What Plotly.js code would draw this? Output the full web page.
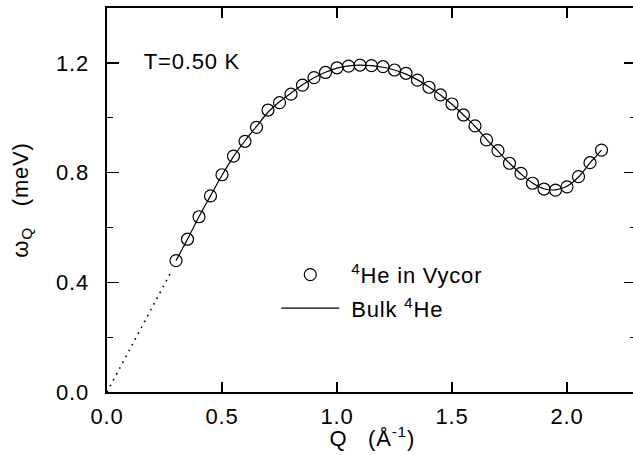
<!DOCTYPE html>
<html>
<head>
<meta charset="utf-8">
<script src="https://cdn.plot.ly/plotly-3.0.1.min.js"></script>
<style>
html,body{margin:0;padding:0;overflow:hidden;background:#fff;}
#chart{width:645px;height:455px;}
#chart text{letter-spacing:0.8px;}
</style>
</head>
<body>
<div id="chart"></div>
<script>
// Data
var vycorQ = [0.30,0.35,0.40,0.45,0.50,0.55,0.60,0.65,0.70,0.75,0.80,0.85,0.90,0.95,1.00,1.05,1.10,1.15,1.20,1.25,1.30,1.35,1.40,1.45,1.50,1.55,1.60,1.65,1.70,1.75,1.80,1.85,1.90,1.95,2.00,2.05,2.10,2.15];
var vycorW = [0.479,0.557,0.639,0.715,0.792,0.860,0.914,0.965,1.028,1.055,1.086,1.119,1.146,1.165,1.182,1.188,1.192,1.190,1.186,1.174,1.162,1.137,1.111,1.083,1.050,1.010,0.970,0.919,0.880,0.834,0.797,0.761,0.740,0.736,0.748,0.785,0.836,0.882];
var bulkQ = [0.30,0.35,0.40,0.45,0.50,0.55,0.60,0.65,0.70,0.75,0.80,0.85,0.90,0.95,1.00,1.05,1.10,1.15,1.20,1.25,1.30,1.35,1.40,1.45,1.50,1.55,1.60,1.65,1.70,1.75,1.80,1.85,1.90,1.95,2.00,2.05,2.10,2.15];
var bulkW = [0.479,0.557,0.639,0.715,0.790,0.858,0.916,0.968,1.020,1.058,1.090,1.120,1.146,1.166,1.181,1.189,1.192,1.190,1.184,1.174,1.159,1.138,1.112,1.083,1.049,1.010,0.969,0.921,0.878,0.834,0.795,0.762,0.741,0.737,0.750,0.784,0.835,0.882];
var phononQ = [0.0, 0.28];
var phononW = [0.0, 0.44];
var xTicks = [0.0, 0.5, 1.0, 1.5, 2.0];
var xTickLabels = ["0.0","0.5","1.0","1.5","2.0"];
var yTicks = [0.0, 0.4, 0.8, 1.2];
var yTickLabels = ["0.0","0.4","0.8","1.2"];
var yMinorTicks = [0.2, 0.6, 1.0];

var FONT = "Liberation Sans, Arial, Helvetica, sans-serif";
var FS = 22;
var NB = '\u00a0';

var traces = [
  {x: phononQ, y: phononW, mode: 'lines', line: {color: '#000', width: 1.6, dash: '1.6px,5px'}, showlegend: false, hoverinfo: 'skip'},
  {x: vycorQ, y: vycorW, mode: 'markers', name: NB + '<sup>4</sup>He in Vycor' + NB + NB, legendgroup: 'a',
   marker: {symbol: 'circle-open', size: 12, color: '#000', line: {color: '#000', width: 1.2}}},
  {x: bulkQ, y: bulkW, mode: 'lines', name: NB + 'Bulk <sup>4</sup>He' + NB + NB, legendgroup: 'b',
   line: {color: '#000', width: 1.2, shape: 'spline'}}
];

var layout = {
  width: 645, height: 455,
  margin: {l: 107, r: 9, t: 8, b: 63},
  paper_bgcolor: '#fff', plot_bgcolor: '#fff',
  font: {family: FONT, color: '#000', size: FS},
  showlegend: true,
  legend: {x: 0.32, y: 0.36, xanchor: 'left', yanchor: 'top', bgcolor: 'rgba(0,0,0,0)',
           font: {family: FONT, size: FS, color: '#000'}, itemwidth: 58, tracegroupgap: 2},
  xaxis: {range: [0, 2.3], tickvals: xTicks, ticktext: xTickLabels, ticks: 'inside', ticklen: 10, tickwidth: 1.3,
          tickcolor: '#000', showline: true, linecolor: '#000', linewidth: 1.6, mirror: 'ticks',
          showgrid: false, zeroline: false, tickfont: {family: FONT, size: FS},
          ticklabelstandoff: 4},
  yaxis: {range: [0, 1.4], tickvals: yTicks, ticktext: yTickLabels, ticks: 'inside', ticklen: 12, tickwidth: 1.3,
          tickcolor: '#000', showline: true, linecolor: '#000', linewidth: 1.6, mirror: 'ticks',
          showgrid: false, zeroline: false, tickfont: {family: FONT, size: FS},
          ticklabelstandoff: 12,
          minor: {tickvals: yMinorTicks, ticks: 'inside', ticklen: 6, tickwidth: 1.2, tickcolor: '#000', showgrid: false},
          title: {text: 'ω<sub>Q</sub>   (meV)', font: {family: FONT, size: FS}, standoff: 24}},
  annotations: [
    {x: 0.167, y: 1.205, xref: 'x', yref: 'y', xanchor: 'left', yanchor: 'middle', showarrow: false,
     text: 'T=0.50 K', font: {family: FONT, size: FS, color: '#000'}},
    {x: 0.5, y: -0.118, xref: 'paper', yref: 'paper', xanchor: 'center', yanchor: 'middle', showarrow: false,
     text: 'Q   (Å<sup>-1</sup>)', font: {family: FONT, size: FS, color: '#000'}}
  ]
};

Plotly.newPlot('chart', traces, layout, {displayModeBar: false, staticPlot: true});
</script>
</body>
</html>
